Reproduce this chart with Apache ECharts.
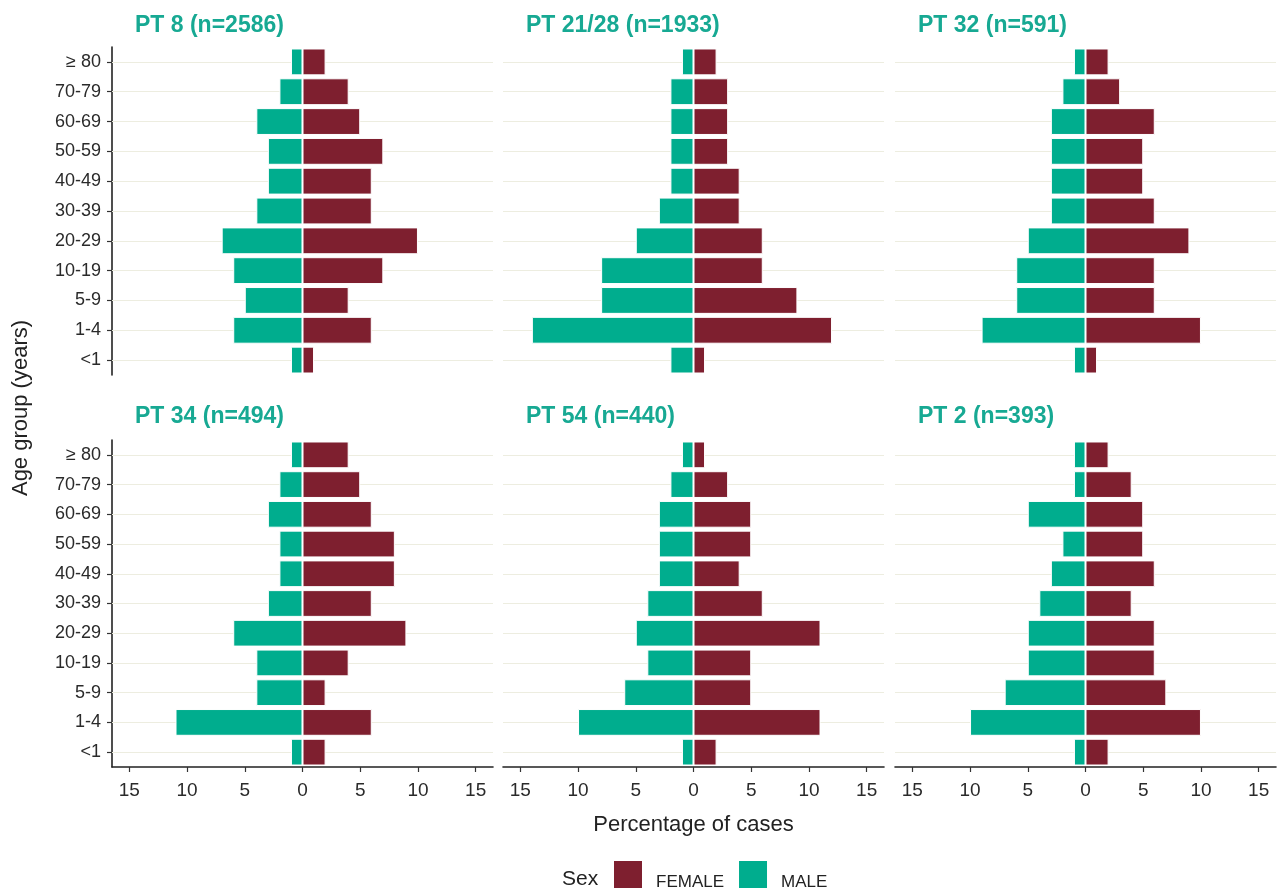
<!DOCTYPE html>
<html>
<head>
<meta charset="utf-8">
<script src="https://cdn.jsdelivr.net/npm/echarts@6/dist/echarts.min.js"></script>
<style>
  html, body { margin: 0; padding: 0; background: #ffffff; }
  #chart { width: 1277px; height: 888px; }
</style>
</head>
<body>
<div id="chart"></div>
<script>
// Age groups, listed from the bottom row of each pyramid to the top row
const ageGroups = ['<1', '1-4', '5-9', '10-19', '20-29', '30-39', '40-49', '50-59', '60-69', '70-79', '\u2265 80'];

const panelTitles = ['PT 8 (n=2586)', 'PT 21/28 (n=1933)', 'PT 32 (n=591)',
                     'PT 34 (n=494)', 'PT 54 (n=440)', 'PT 2 (n=393)'];

// Percentage of cases per age group (same order as ageGroups)
const femalePT8   = [1, 6, 4, 7, 10, 6, 6, 7, 5, 4, 2];
const malePT8     = [1, 6, 5, 6, 7, 4, 3, 3, 4, 2, 1];
const femalePT21  = [1, 12, 9, 6, 6, 4, 4, 3, 3, 3, 2];
const malePT21    = [2, 14, 8, 8, 5, 3, 2, 2, 2, 2, 1];
const femalePT32  = [1, 10, 6, 6, 9, 6, 5, 5, 6, 3, 2];
const malePT32    = [1, 9, 6, 6, 5, 3, 3, 3, 3, 2, 1];
const femalePT34  = [2, 6, 2, 4, 9, 6, 8, 8, 6, 5, 4];
const malePT34    = [1, 11, 4, 4, 6, 3, 2, 2, 3, 2, 1];
const femalePT54  = [2, 11, 5, 5, 11, 6, 4, 5, 5, 3, 1];
const malePT54    = [1, 10, 6, 4, 5, 4, 3, 3, 3, 2, 1];
const femalePT2   = [2, 10, 7, 6, 6, 4, 6, 5, 5, 4, 2];
const malePT2     = [1, 10, 7, 5, 5, 4, 3, 2, 5, 1, 1];

// Tick values on the percentage axis (shown as absolute values)
const xTicks = [-15, -10, -5, 0, 5, 10, 15];

const femaleSets = [femalePT8, femalePT21, femalePT32, femalePT34, femalePT54, femalePT2];
const maleSets   = [malePT8, malePT21, malePT32, malePT34, malePT54, malePT2];

const FEMALE_COLOR = '#7E1F2F';
const MALE_COLOR = '#00AD8E';
const TITLE_COLOR = '#17A993';
const TEXT_COLOR = '#2a2a2a';
const FONT = '"Liberation Sans", Arial, sans-serif';

const colLeft = [112, 503, 895];
const rowTop = [47, 440];
const titleTop = [14, 405];
const panelWidth = 381;
const panelHeight = [328, 327];

const grids = [], xAxes = [], yAxes = [], series = [], titles = [];

for (let p = 0; p < 6; p++) {
  const col = p % 3, row = Math.floor(p / 3);
  grids.push({
    left: colLeft[col], top: rowTop[row],
    width: panelWidth, height: panelHeight[row],
    containLabel: false, outerBoundsMode: 'none'
  });
  const bottomRow = row === 1;
  xAxes.push({
    type: 'value', gridIndex: p, min: -16.5, max: 16.5,
    show: bottomRow,
    axisLine: { show: true, onZero: false, lineStyle: { color: '#222', width: 1.6 } },
    axisTick: { show: true, length: 5, customValues: xTicks, lineStyle: { color: '#333', width: 1.2 } },
    axisLabel: {
      show: true, customValues: xTicks, margin: 14,
      formatter: v => String(Math.abs(v)),
      color: TEXT_COLOR, fontSize: 19, fontFamily: FONT
    },
    splitLine: { show: false },
    name: p === 4 ? 'Percentage of cases' : '',
    nameLocation: 'middle', nameGap: 47,
    nameTextStyle: { color: '#222', fontSize: 22, fontFamily: FONT }
  });
  const leftCol = col === 0;
  yAxes.push({
    type: 'category', gridIndex: p, data: ageGroups,
    axisLine: { show: leftCol, onZero: false, lineStyle: { color: '#222', width: 1.6 } },
    axisTick: { show: leftCol, length: 5, alignWithLabel: true, lineStyle: { color: '#333', width: 1.2 } },
    axisLabel: {
      show: leftCol, interval: 0, margin: 11,
      color: TEXT_COLOR, fontSize: 18, fontFamily: FONT
    },
    splitLine: { show: false }
  });
  series.push({
    name: 'FEMALE', type: 'bar', xAxisIndex: p, yAxisIndex: p,
    stack: 'pt' + p, barWidth: '90%',
    itemStyle: { color: FEMALE_COLOR, borderColor: '#ffffff', borderWidth: 1 },
    data: femaleSets[p],
    // horizontal guide line through the middle of every age group, behind the bars
    markLine: {
      z: 1, silent: true, symbol: 'none', animation: false,
      label: { show: false },
      lineStyle: { color: '#EDEDE0', width: 1, type: 'solid' },
      emphasis: { disabled: true },
      data: ageGroups.map(g => ({ yAxis: g }))
    }
  });
  series.push({
    name: 'MALE', type: 'bar', xAxisIndex: p, yAxisIndex: p,
    stack: 'pt' + p, barWidth: '90%',
    itemStyle: { color: MALE_COLOR, borderColor: '#ffffff', borderWidth: 1 },
    data: maleSets[p].map(v => -v)
  });
  titles.push({
    text: panelTitles[p], padding: 0,
    left: colLeft[col] + 23, top: titleTop[row],
    textStyle: { color: TITLE_COLOR, fontSize: 23, fontWeight: 'bold', fontFamily: FONT }
  });
}

titles.push({
  text: 'Sex', padding: 0, left: 562, top: 869,
  textStyle: { color: '#222', fontSize: 21, fontWeight: 'normal', fontFamily: FONT }
});

const chart = echarts.init(document.getElementById('chart'), null, { renderer: 'canvas' });
chart.setOption({
  backgroundColor: '#ffffff',
  animation: false,
  title: titles,
  grid: grids,
  xAxis: xAxes,
  yAxis: yAxes,
  series: series,
  legend: {
    data: ['FEMALE', 'MALE'],
    left: 612, top: 859, padding: 0,
    icon: 'rect', itemWidth: 30, itemHeight: 30, itemGap: 13,
    selectedMode: false,
    formatter: '{k|{name}}',
    textStyle: {
      color: '#222', fontSize: 17, fontFamily: FONT,
      rich: { k: { color: '#222', fontSize: 17, fontFamily: FONT, padding: [14, 0, 0, 8] } }
    }
  },
  graphic: [{
    type: 'text', x: 21, y: 408, rotation: Math.PI / 2,
    style: {
      text: 'Age group (years)', fill: '#222',
      font: '22px ' + FONT, textAlign: 'center', textVerticalAlign: 'middle'
    }
  }]
});
</script>
</body>
</html>
